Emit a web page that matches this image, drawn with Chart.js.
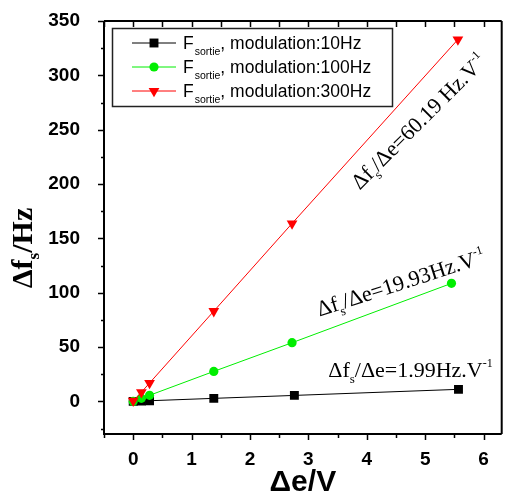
<!DOCTYPE html>
<html>
<head>
<meta charset="utf-8">
<script src="https://cdn.jsdelivr.net/npm/chart.js@4"></script>
<style>
  html, body { margin: 0; padding: 0; background: #fff; }
  #c { display: block; }
</style>
</head>
<body>
<canvas id="c" width="508" height="495"></canvas>
<script>
// donnees
const xTicks = [0, 1, 2, 3, 4, 5, 6];
const yTicks = [0, 50, 100, 150, 200, 250, 300, 350];

const x10 = [0, 0.14, 0.28, 1.38, 2.76, 5.57];
const y10 = [0, 0.3, 0.6, 2.8, 5.5, 11.1];
const x100 = [0, 0.14, 0.28, 1.38, 2.72, 5.45];
const y100 = [0, 2.8, 5.6, 27.6, 54, 108.6];
const x300 = [0, 0.14, 0.28, 1.38, 2.72, 5.56];
const y300 = [0.5, 8.4, 16.9, 83, 163.7, 333];

const seriesNames = ['modulation:10Hz', 'modulation:100Hz', 'modulation:300Hz'];
const slopes = ['1.99Hz.V', '19.93Hz.V', '60.19 Hz.V'];
// position (en unites des axes) et angle des annotations
const annX = [3.34, 3.19, 3.88];
const annY = [22.7, 78, 194];
const annAngle = [0, -18, -45];

const toPts = (xs, ys) => xs.map((x, i) => ({x: x, y: ys[i]}));

const serif = '"Liberation Serif", "Times New Roman", serif';
const sans = '"Liberation Sans", Arial, sans-serif';

// cadre + graduations (majeures / mineures)
const framePlugin = {
  id: 'frame',
  afterDraw(chart) {
    const ctx = chart.ctx, a = chart.chartArea;
    const xs = chart.scales.x, ys = chart.scales.y;
    ctx.save();
    ctx.strokeStyle = '#000';
    ctx.lineWidth = 2;
    ctx.beginPath();
    ctx.moveTo(a.left, a.top); ctx.lineTo(a.right, a.top);
    ctx.moveTo(a.left, a.top); ctx.lineTo(a.left, a.bottom);
    ctx.lineTo(a.right, a.bottom);
    ctx.moveTo(a.right, a.top); ctx.lineTo(a.right, a.bottom);
    ctx.stroke();
    ctx.lineWidth = 1.5;
    ctx.beginPath();
    for (let v = -0.5; v <= 6.31; v += 0.5) {
      const px = Math.round(xs.getPixelForValue(v)) + 0.5;
      const len = Number.isInteger(v) ? 6 : 4;
      ctx.moveTo(px, a.bottom); ctx.lineTo(px, a.bottom + len);
      ctx.moveTo(px, a.top); ctx.lineTo(px, a.top + 6);
    }
    for (let v = -25; v <= 350; v += 25) {
      const py = Math.round(ys.getPixelForValue(v)) + 0.5;
      const len = v % 50 === 0 ? 6 : 3;
      ctx.moveTo(a.left, py); ctx.lineTo(a.left - len, py);
    }
    ctx.stroke();

    // titres des axes
    ctx.fillStyle = '#000';
    ctx.font = 'bold 30px ' + sans;
    ctx.textAlign = 'center';
    ctx.textBaseline = 'alphabetic';
    ctx.fillText('\u0394e/V', (a.left + a.right) / 2, 491);

    ctx.translate(32, 248);
    ctx.rotate(-Math.PI / 2);
    ctx.textAlign = 'left';
    const p1 = '\u0394f', p3 = '/Hz';
    ctx.font = 'bold 30px ' + serif;
    const w1 = ctx.measureText(p1).width, w3 = ctx.measureText(p3).width;
    ctx.font = 'bold 17px ' + serif;
    const w2 = ctx.measureText('s').width;
    let x0 = -(w1 + w2 + w3) / 2;
    ctx.font = 'bold 30px ' + serif;
    ctx.fillText(p1, x0, 0);
    ctx.font = 'bold 17px ' + serif;
    ctx.fillText('s', x0 + w1, 7);
    ctx.font = 'bold 30px ' + serif;
    ctx.fillText(p3, x0 + w1 + w2, 0);
    ctx.restore();
  }
};

// legende avec indice "sortie"
const legendPlugin = {
  id: 'legendSub',
  afterDraw(chart) {
    const ctx = chart.ctx, a = chart.chartArea;
    const bx = a.left + 8, by = a.top + 7, bw = 280, bh = 78;
    ctx.save();
    ctx.fillStyle = '#fff';
    ctx.fillRect(bx, by, bw, bh);
    ctx.strokeStyle = '#222';
    ctx.lineWidth = 1.5;
    ctx.strokeRect(bx + 0.5, by + 0.5, bw, bh);
    chart.data.datasets.forEach((ds, i) => {
      const cy = by + 15 + i * 24;
      ctx.strokeStyle = ds.borderColor;
      ctx.lineWidth = 1;
      ctx.beginPath();
      ctx.moveTo(bx + 20, cy); ctx.lineTo(bx + 64, cy);
      ctx.stroke();
      ctx.fillStyle = ds.backgroundColor;
      ctx.strokeStyle = ds.borderColor;
      Chart.helpers.drawPoint(ctx, {pointStyle: ds.pointStyle, radius: ds.pointRadius, rotation: ds.pointRotation || 0, borderWidth: 0}, bx + 42, cy);
      ctx.fillStyle = '#000';
      ctx.textBaseline = 'alphabetic';
      let tx = bx + 71;
      ctx.font = '17.5px ' + sans;
      ctx.fillText('F', tx, cy + 6);
      tx += ctx.measureText('F').width + 1;
      ctx.font = '10.5px ' + sans;
      ctx.fillText('sortie', tx, cy + 12);
      tx += ctx.measureText('sortie').width;
      ctx.font = '17.5px ' + sans;
      ctx.fillText(', ' + seriesNames[i], tx, cy + 6);
    });
    ctx.restore();
  }
};

// annotations des pentes
const slopePlugin = {
  id: 'slopes',
  afterDatasetsDraw(chart) {
    const ctx = chart.ctx;
    const xs = chart.scales.x, ys = chart.scales.y;
    slopes.forEach((s, i) => {
      ctx.save();
      ctx.translate(xs.getPixelForValue(annX[i]), ys.getPixelForValue(annY[i]));
      ctx.rotate(annAngle[i] * Math.PI / 180);
      ctx.fillStyle = '#000';
      ctx.textBaseline = 'alphabetic';
      const parts = [
        ['\u0394f', 22, 0], ['s', 13, 6], ['/\u0394e=' + s, 22, 0], ['-1', 12, -10]
      ];
      let tx = 0;
      parts.forEach(p => {
        ctx.font = p[1] + 'px ' + serif;
        ctx.fillText(p[0], tx, p[2]);
        tx += ctx.measureText(p[0]).width;
      });
      ctx.restore();
    });
  }
};

new Chart(document.getElementById('c'), {
  type: 'scatter',
  data: {
    datasets: [{
      label: 'F sortie, ' + seriesNames[0],
      data: toPts(x10, y10),
      showLine: true,
      borderColor: '#000000',
      backgroundColor: '#000000',
      borderWidth: 1,
      pointStyle: 'rect',
      pointRadius: 6.3,
      pointBorderWidth: 0,
      order: 2
    }, {
      label: 'F sortie, ' + seriesNames[1],
      data: toPts(x100, y100),
      showLine: true,
      borderColor: '#00ee00',
      backgroundColor: '#00ee00',
      borderWidth: 1,
      pointStyle: 'circle',
      pointRadius: 4.6,
      pointBorderWidth: 0,
      order: 1
    }, {
      label: 'F sortie, ' + seriesNames[2],
      data: toPts(x300, y300),
      showLine: true,
      borderColor: '#ff0000',
      backgroundColor: '#ff0000',
      borderWidth: 1,
      pointStyle: 'triangle',
      pointRotation: 180,
      pointRadius: 6.2,
      pointBorderWidth: 0,
      order: 0
    }]
  },
  options: {
    responsive: false,
    animation: false,
    layout: { padding: { top: 21, right: 0, left: 0, bottom: 0 } },
    plugins: {
      legend: { display: false },
      tooltip: { enabled: false }
    },
    elements: { line: { tension: 0 } },
    scales: {
      x: {
        type: 'linear',
        min: -0.5,
        max: 6.31,
        afterBuildTicks: s => { s.ticks = xTicks.map(v => ({value: v})); },
        afterFit: s => { s.height = 61; s.paddingLeft = 0; s.paddingRight = 0; },
        grid: { display: true, drawOnChartArea: false, drawTicks: true, tickLength: 6, color: 'rgba(0,0,0,0)' },
        border: { display: false },
        ticks: {
          color: '#000',
          font: { family: sans, size: 19, weight: 'bold' },
          padding: 8,
          maxRotation: 0,
          autoSkip: false
        }
      },
      y: {
        type: 'linear',
        min: -30,
        max: 350,
        afterBuildTicks: s => { s.ticks = yTicks.map(v => ({value: v})); },
        afterFit: s => { s.width = 104; s.paddingTop = 0; s.paddingBottom = 0; },
        grid: { display: true, drawOnChartArea: false, drawTicks: true, tickLength: 6, color: 'rgba(0,0,0,0)' },
        border: { display: false },
        ticks: {
          color: '#000',
          font: { family: sans, size: 19, weight: 'bold' },
          padding: 18,
          autoSkip: false
        }
      }
    }
  },
  plugins: [framePlugin, legendPlugin, slopePlugin]
});
</script>
</body>
</html>
